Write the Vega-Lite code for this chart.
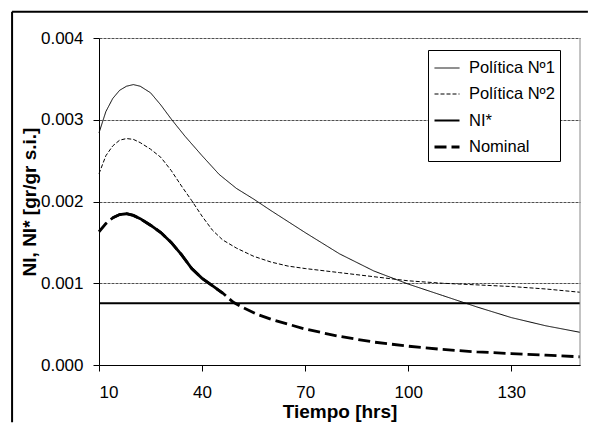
{
  "$schema": "https://vega.github.io/schema/vega-lite/v6.json",
  "width": 481,
  "height": 327,
  "autosize": {"type": "none"},
  "padding": {"left": 99, "top": 38, "right": 14, "bottom": 65},
  "background": "white",
  "config": {
    "view": {"stroke": null},
    "font": "Liberation Sans",
    "axis": {
      "domainColor": "black",
      "tickColor": "black",
      "labelColor": "black",
      "titleColor": "black",
      "labelFont": "Liberation Sans",
      "titleFont": "Liberation Sans",
      "labelFontSize": 17,
      "titleFontSize": 19,
      "titleFontWeight": "bold",
      "tickSize": 6
    },
    "legend": {
      "orient": "none",
      "legendX": 329,
      "legendY": 12,
      "fillColor": "white",
      "strokeColor": "black",
      "padding": 5,
      "labelFontSize": 16.5,
      "labelFont": "Liberation Sans",
      "labelColor": "black",
      "symbolType": "stroke",
      "symbolSize": 625,
      "symbolStrokeColor": "black",
      "rowPadding": 4,
      "labelOffset": 8
    }
  },
  "datasets": {
    "curves": [
      {"t": 10, "v": 0.00284, "serie": "Política Nº1"},
      {"t": 12, "v": 0.0031, "serie": "Política Nº1"},
      {"t": 14, "v": 0.00326, "serie": "Política Nº1"},
      {"t": 16, "v": 0.00336, "serie": "Política Nº1"},
      {"t": 18, "v": 0.00341, "serie": "Política Nº1"},
      {"t": 20, "v": 0.00343, "serie": "Política Nº1"},
      {"t": 22, "v": 0.00341, "serie": "Política Nº1"},
      {"t": 25, "v": 0.00333, "serie": "Política Nº1"},
      {"t": 28, "v": 0.00318, "serie": "Política Nº1"},
      {"t": 31, "v": 0.00301, "serie": "Política Nº1"},
      {"t": 35, "v": 0.0028, "serie": "Política Nº1"},
      {"t": 40, "v": 0.00256, "serie": "Política Nº1"},
      {"t": 45, "v": 0.00233, "serie": "Política Nº1"},
      {"t": 50, "v": 0.00216, "serie": "Política Nº1"},
      {"t": 55, "v": 0.00203, "serie": "Política Nº1"},
      {"t": 60, "v": 0.00189, "serie": "Política Nº1"},
      {"t": 70, "v": 0.00162, "serie": "Política Nº1"},
      {"t": 80, "v": 0.00136, "serie": "Política Nº1"},
      {"t": 90, "v": 0.00115, "serie": "Política Nº1"},
      {"t": 100, "v": 0.00099, "serie": "Política Nº1"},
      {"t": 110, "v": 0.00085, "serie": "Política Nº1"},
      {"t": 120, "v": 0.00071, "serie": "Política Nº1"},
      {"t": 130, "v": 0.00058, "serie": "Política Nº1"},
      {"t": 140, "v": 0.00048, "serie": "Política Nº1"},
      {"t": 150, "v": 0.0004, "serie": "Política Nº1"},
      {"t": 10, "v": 0.00234, "serie": "Política Nº2"},
      {"t": 12, "v": 0.00256, "serie": "Política Nº2"},
      {"t": 14, "v": 0.00268, "serie": "Política Nº2"},
      {"t": 16, "v": 0.00275, "serie": "Política Nº2"},
      {"t": 18, "v": 0.00277, "serie": "Política Nº2"},
      {"t": 20, "v": 0.00276, "serie": "Política Nº2"},
      {"t": 22, "v": 0.00272, "serie": "Política Nº2"},
      {"t": 25, "v": 0.00264, "serie": "Política Nº2"},
      {"t": 28, "v": 0.00254, "serie": "Política Nº2"},
      {"t": 31, "v": 0.00238, "serie": "Política Nº2"},
      {"t": 34, "v": 0.00219, "serie": "Política Nº2"},
      {"t": 37, "v": 0.00201, "serie": "Política Nº2"},
      {"t": 40, "v": 0.00182, "serie": "Política Nº2"},
      {"t": 43, "v": 0.00165, "serie": "Política Nº2"},
      {"t": 46, "v": 0.00153, "serie": "Política Nº2"},
      {"t": 50, "v": 0.00143, "serie": "Política Nº2"},
      {"t": 55, "v": 0.00133, "serie": "Política Nº2"},
      {"t": 60, "v": 0.00126, "serie": "Política Nº2"},
      {"t": 65, "v": 0.00121, "serie": "Política Nº2"},
      {"t": 70, "v": 0.00118, "serie": "Política Nº2"},
      {"t": 80, "v": 0.00113, "serie": "Política Nº2"},
      {"t": 90, "v": 0.00108, "serie": "Política Nº2"},
      {"t": 100, "v": 0.00103, "serie": "Política Nº2"},
      {"t": 110, "v": 0.001, "serie": "Política Nº2"},
      {"t": 120, "v": 0.00098, "serie": "Política Nº2"},
      {"t": 130, "v": 0.00096, "serie": "Política Nº2"},
      {"t": 140, "v": 0.00093, "serie": "Política Nº2"},
      {"t": 150, "v": 0.00089, "serie": "Política Nº2"},
      {"t": 10, "v": 0.000756, "serie": "NI*"},
      {"t": 150, "v": 0.000756, "serie": "NI*"},
      {"t": 10, "v": 0.00163, "serie": "Nominal"},
      {"t": 12, "v": 0.00173, "serie": "Nominal"},
      {"t": 14, "v": 0.0018, "serie": "Nominal"},
      {"t": 16, "v": 0.00184, "serie": "Nominal"},
      {"t": 18, "v": 0.00185, "serie": "Nominal"},
      {"t": 20, "v": 0.00183, "serie": "Nominal"},
      {"t": 22, "v": 0.00179, "serie": "Nominal"},
      {"t": 25, "v": 0.00171, "serie": "Nominal"},
      {"t": 28, "v": 0.00162, "serie": "Nominal"},
      {"t": 31, "v": 0.0015, "serie": "Nominal"},
      {"t": 34, "v": 0.00135, "serie": "Nominal"},
      {"t": 37, "v": 0.00118, "serie": "Nominal"},
      {"t": 40, "v": 0.00106, "serie": "Nominal"},
      {"t": 43, "v": 0.00097, "serie": "Nominal"},
      {"t": 46, "v": 0.00088, "serie": "Nominal"},
      {"t": 49, "v": 0.00077, "serie": "Nominal"},
      {"t": 52, "v": 0.0007, "serie": "Nominal"},
      {"t": 56, "v": 0.00062, "serie": "Nominal"},
      {"t": 60, "v": 0.00056, "serie": "Nominal"},
      {"t": 65, "v": 0.0005, "serie": "Nominal"},
      {"t": 70, "v": 0.00044, "serie": "Nominal"},
      {"t": 80, "v": 0.00035, "serie": "Nominal"},
      {"t": 90, "v": 0.00028, "serie": "Nominal"},
      {"t": 100, "v": 0.00023, "serie": "Nominal"},
      {"t": 110, "v": 0.00019, "serie": "Nominal"},
      {"t": 120, "v": 0.00016, "serie": "Nominal"},
      {"t": 130, "v": 0.00014, "serie": "Nominal"},
      {"t": 140, "v": 0.00012, "serie": "Nominal"},
      {"t": 150, "v": 0.0001, "serie": "Nominal"}
    ]
  },
  "layer": [
    {
      "data": {"name": "curves"},
      "mark": {"type": "line", "color": "black", "strokeCap": "butt"},
      "encoding": {
        "x": {
          "field": "t", "type": "quantitative",
          "scale": {"domain": [10, 150], "nice": false, "zero": false},
          "axis": {"values": [10, 40, 70, 100, 130], "grid": false, "title": "Tiempo [hrs]", "labelPadding": 13, "titlePadding": 2}
        },
        "y": {
          "field": "v", "type": "quantitative",
          "scale": {"domain": [0, 0.004], "nice": false, "zero": false},
          "axis": {"values": [0, 0.001, 0.002, 0.003, 0.004], "format": ".3f", "grid": true, "gridColor": "#222", "gridDash": [3, 1], "gridWidth": 0.8, "title": "NI, NI* [gr/gr s.i.]", "labelPadding": 10, "titlePadding": 1}
        },
        "strokeDash": {
          "field": "serie", "type": "ordinal",
          "scale": {"domain": ["Política Nº1", "Política Nº2", "NI*", "Nominal"], "range": [[1, 0], [4, 2], [1, 0], [12, 5]]},
          "legend": {"title": null}
        },
        "strokeWidth": {
          "field": "serie", "type": "ordinal",
          "scale": {"type": "ordinal", "domain": ["Política Nº1", "Política Nº2", "NI*", "Nominal"], "range": [1, 1, 2, 2.8]},
          "legend": {"title": null}
        },
        "order": {"field": "t", "type": "quantitative"}
      }
    },
    {
      "data": {"name": "curves"},
      "transform": [{"filter": "datum.serie === 'Nominal' && datum.t >= 13 && datum.t <= 47"}],
      "mark": {"type": "line", "color": "black", "strokeWidth": 2.8},
      "encoding": {
        "x": {"field": "t", "type": "quantitative", "title": "Tiempo [hrs]"},
        "y": {"field": "v", "type": "quantitative", "title": "NI, NI* [gr/gr s.i.]"}
      }
    },
    {
      "data": {"values": [{}]},
      "mark": {"type": "rule", "color": "#888", "strokeWidth": 1},
      "encoding": {"x": {"datum": 150, "type": "quantitative"}}
    },
    {
      "data": {"values": [{}]},
      "mark": {"type": "rule", "color": "black", "strokeWidth": 2, "clip": false},
      "encoding": {
        "x": {"datum": -15.3, "type": "quantitative"},
        "y": {"datum": 0.00432, "type": "quantitative"},
        "y2": {"datum": -0.0007}
      }
    },
    {
      "data": {"values": [{}]},
      "mark": {"type": "rule", "color": "black", "strokeWidth": 2, "clip": false},
      "encoding": {
        "x": {"datum": -15.3, "type": "quantitative"},
        "x2": {"datum": 152.3},
        "y": {"datum": 0.00432, "type": "quantitative"}
      }
    }
  ]
}
